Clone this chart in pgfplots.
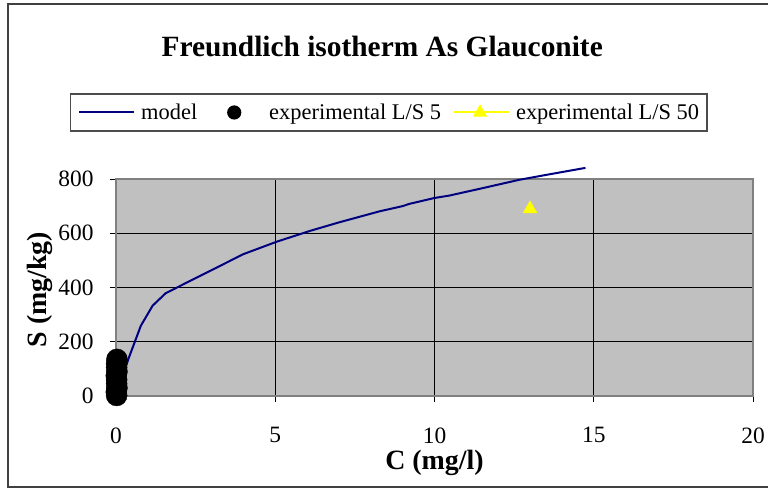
\documentclass[border=0pt]{standalone}
\usepackage{fontspec}
\setmainfont{Liberation Serif}
\usepackage{pgfplots}
\pgfplotsset{compat=1.18}
\definecolor{navyline}{RGB}{0,0,128}
\definecolor{plotgray}{RGB}{192,192,192}
\definecolor{axgray}{RGB}{128,128,128}
\definecolor{ylw}{RGB}{255,255,0}
\begin{document}
\begin{tikzpicture}[x=1bp,y=1bp]
\path[use as bounding box] (0,0) rectangle (768,489);
\draw[line width=1.2bp, black!75] (8,2) rectangle (780,485);
\begin{axis}[
  at={(116bp,93bp)}, anchor=south west,
  scale only axis, width=637bp, height=217bp,
  xmin=0, xmax=20, ymin=0, ymax=800,
  xtick={0,5,10,15,20}, ytick={0,200,400,600,800},
  axis background/.style={fill=plotgray},
  grid=major, major grid style={black, line width=0.9bp},
  axis line style={axgray, line width=1.2bp},
  tick style={black, line width=0.9bp}, major tick length=6bp,
  tick align=outside, tick pos=left,
  clip=false,
  /pgf/number format/assume math mode=true,
  ticklabel style={font=\fontsize{23.5}{23.5}\selectfont},
  xticklabel style={yshift=-22bp},
  yticklabel style={xshift=-13bp},
  xlabel={C (mg/l)}, ylabel={S (mg/kg)},
  label style={font=\fontsize{28}{28}\selectfont\bfseries},
  xlabel style={at={(axis description cs:0.5,-0.31)}, anchor=center},
  ylabel style={at={(axis description cs:-0.12,0.49)}, anchor=center},
  title={Freundlich isotherm As Glauconite},
  title style={at={(axis description cs:0.418,1.585)}, anchor=center, font=\fontsize{29.5}{29.5}\selectfont\bfseries},
  legend columns=3,
  legend style={at={(axis description cs:0.428,1.3065)}, anchor=center, draw=black!70, line width=1.2bp, fill=white,
    font=\fontsize{22.5}{22.5}\selectfont, inner xsep=8bp, inner ysep=10bp,
    nodes={inner sep=0bp},
    /tikz/column 1/.style={column sep=6bp},
    /tikz/column 2/.style={column sep=12bp},
    /tikz/column 3/.style={column sep=10bp},
    /tikz/column 4/.style={column sep=12bp},
    /tikz/column 5/.style={column sep=6bp}},
  legend cell align=left,
]
\addplot[navyline, line width=2bp, legend image code/.code={\draw[navyline, line width=2bp] (0bp,0bp) -- (55bp,0bp);}] coordinates {
 (0,0) (0.4,140) (0.78,259) (1.15,333) (1.56,379) (4.0,523) (5.05,569) (6.1,609) (7.0,640) (8.28,681) (9.0,700) (9.2,708) (10.0,730) (10.47,739) (11.5,766) (12.66,797) (13.5,815) (14.74,841)
};
\addlegendentry{model}
\addplot[only marks, mark=*, mark size=10.5bp, black, legend image code/.code={\path[draw=none, fill=none] (0bp,0bp) rectangle (50bp,0.1bp); \fill[black] (25bp,0bp) circle (6.5bp);}] coordinates {
 (0.02,2) (0.01,15) (0.03,30) (0.02,45) (0.02,60) (0.01,75) (0.03,90) (0.02,105) (0.02,120) (0.03,135)
};
\addlegendentry{experimental L/S 5}
\addplot[only marks, mark=triangle*, mark size=8bp, ylw, legend image code/.code={\draw[ylw, line width=2bp] (0bp,0bp) -- (55bp,0bp); \draw[ylw, mark=triangle*, mark size=7bp] plot coordinates {(26bp,0bp)};}] coordinates {
 (13,690)
};
\addlegendentry{experimental L/S 50}
\end{axis}
\end{tikzpicture}
\end{document}
